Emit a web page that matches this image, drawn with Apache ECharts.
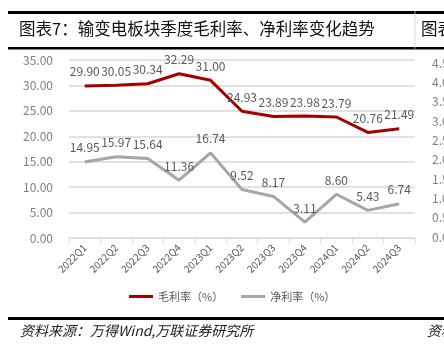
<!DOCTYPE html>
<html>
<head>
<meta charset="utf-8">
<script src="https://cdn.jsdelivr.net/npm/echarts@6/dist/echarts.min.js"></script>
<style>
  html, body { margin: 0; padding: 0; background: #fff; }
  #chart { width: 444px; height: 354px; }
</style>
</head>
<body>
<div id="chart"></div>
<script>
(function() {
  var quarters = ['2022Q1', '2022Q2', '2022Q3', '2022Q4', '2023Q1', '2023Q2', '2023Q3', '2023Q4', '2024Q1', '2024Q2', '2024Q3'];
  var grossMargin = [29.90, 30.05, 30.34, 32.29, 31.00, 24.93, 23.89, 23.98, 23.79, 20.76, 21.49];
  var netMargin = [14.95, 15.97, 15.64, 11.36, 16.74, 9.52, 8.17, 3.11, 8.60, 5.43, 6.74];
  var seriesNames = ['毛利率（%）', '净利率（%）'];
  // y axis of the neighbouring chart that is cut off at the right edge
  var sideTicks = [0, 0.5, 1.0, 1.5, 2.0, 2.5, 3.0, 3.5, 4.0, 4.5];

  var red = '#a50000', gray = '#a6a6a6', labelGray = '#595959', axisGray = '#7f7f7f', rule = '#d9d9d9';
  var font = '"Noto Sans CJK SC", "Noto Sans", sans-serif';

  var chart = echarts.init(document.getElementById('chart'), null, { renderer: 'canvas' });

  function lineSeries(name, data, color) {
    return {
      type: 'line', name: name, data: data, xAxisIndex: 0, yAxisIndex: 0,
      showSymbol: true, symbol: 'circle', symbolSize: 0.1, smooth: false,
      lineStyle: { color: color, width: 3 },
      itemStyle: { color: color },
      label: {
        show: true, position: 'top', distance: 8,
        color: labelGray, fontSize: 12, fontFamily: font,
        formatter: function(p) { return p.value.toFixed(2); }
      }
    };
  }

  chart.setOption({
    animation: false,
    backgroundColor: '#fff',
    grid: [
      { left: 69, right: 29, top: 60, bottom: 116 },
      { left: 470, width: 100, top: 63, bottom: 117 }
    ],
    xAxis: [{
      type: 'category', data: quarters, gridIndex: 0, boundaryGap: true,
      axisLine: { lineStyle: { color: rule } },
      axisTick: { show: true, alignWithLabel: false, length: 5, lineStyle: { color: rule } },
      axisLabel: { rotate: 45, color: labelGray, fontSize: 10, fontFamily: font, margin: 8, interval: 0 }
    }, {
      type: 'value', gridIndex: 1, show: false
    }],
    yAxis: [{
      type: 'value', min: 0, max: 35, interval: 5, gridIndex: 0,
      axisLine: { show: false }, axisTick: { show: false },
      axisLabel: { color: axisGray, fontSize: 12, fontFamily: font, margin: 16,
        formatter: function(v) { return v.toFixed(2); } },
      splitLine: { lineStyle: { color: rule, width: 1.5 } }
    }, {
      type: 'value', min: sideTicks[0], max: sideTicks[sideTicks.length - 1], interval: 0.5, gridIndex: 1,
      axisLine: { show: false }, axisTick: { show: false }, splitLine: { show: false },
      axisLabel: { color: axisGray, fontSize: 12, fontFamily: font, margin: 38, align: 'left',
        formatter: function(v) { return v.toFixed(1); } }
    }],
    legend: {
      data: seriesNames, left: 124, top: 286, itemGap: 18,
      icon: 'rect', itemWidth: 24, itemHeight: 3,
      textStyle: { color: labelGray, fontSize: 11, fontFamily: font }
    },
    series: [
      lineSeries(seriesNames[0], grossMargin, red),
      lineSeries(seriesNames[1], netMargin, gray)
    ],
    graphic: [
      { type: 'rect', shape: { x: 8, y: 11, width: 436, height: 3 }, style: { fill: '#000' } },
      { type: 'rect', shape: { x: 8, y: 47, width: 436, height: 2.5 }, style: { fill: '#000' } },
      { type: 'rect', shape: { x: 414.5, y: 11, width: 0.8, height: 38 }, style: { fill: '#ccc' } },
      { type: 'text', left: 19, top: 20, style: { text: '图表7：输变电板块季度毛利率、净利率变化趋势', fill: '#111', font: '16.5px ' + font } },
      { type: 'text', left: 421, top: 20, style: { text: '图表', fill: '#111', font: '16.5px ' + font } },
      { type: 'rect', shape: { x: 8, y: 317, width: 436, height: 3 }, style: { fill: '#000' } },
      { type: 'text', left: 20, top: 324, style: { text: '资料来源：万得Wind,万联证券研究所', fill: '#222', font: 'italic 14px ' + font } },
      { type: 'text', left: 427, top: 324, style: { text: '资料', fill: '#222', font: 'italic 14px ' + font } }
    ]
  });
})();
</script>
</body>
</html>
